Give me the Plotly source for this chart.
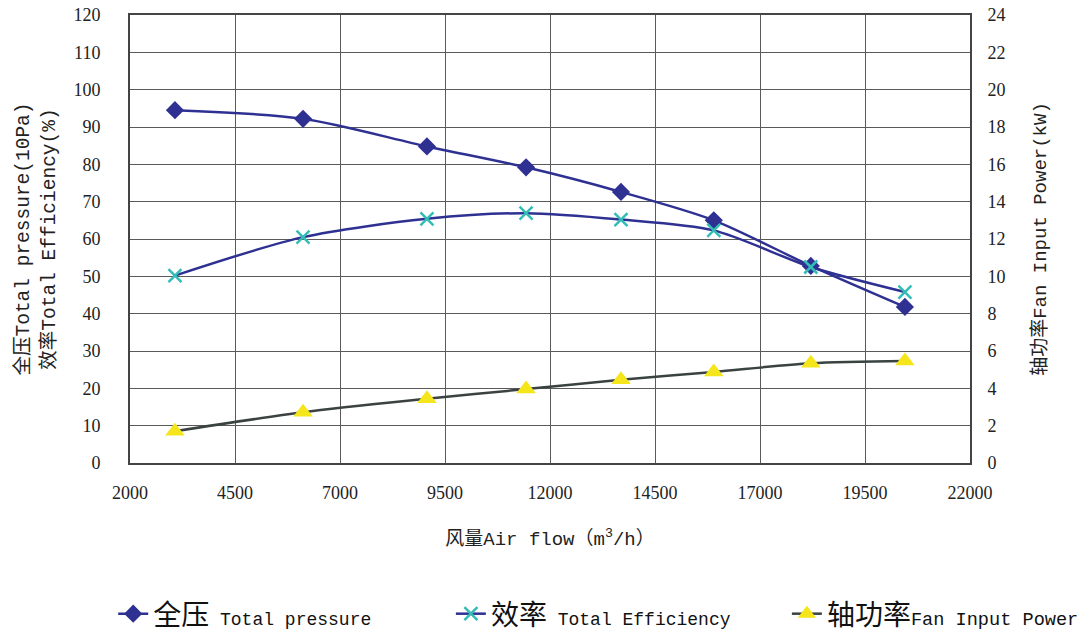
import plotly.graph_objects as go

airflow = [3070, 6120, 9070, 11430, 13690, 15900, 18210, 20450]
total_pressure = [94.5, 92.2, 84.8, 79.2, 72.6, 65.0, 52.8, 41.8]
efficiency = [50.2, 60.5, 65.4, 66.9, 65.2, 62.3, 52.5, 45.8]
input_power = [1.70, 2.72, 3.44, 3.96, 4.46, 4.88, 5.34, 5.46]

x_ticks = [2000, 4500, 7000, 9500, 12000, 14500, 17000, 19500, 22000]

NUM_FONT = "Liberation Serif"
TITLE_FONT = "Liberation Mono, Noto Sans CJK SC"
CJK = "Noto Sans CJK SC"
MONO_SPAN = "<span style='font-size:18px;font-family:Liberation Mono'>{}</span>"
MONO_SPAN3 = "<span style='font-size:18.6px;font-family:Liberation Mono'>{}</span>"

fig = go.Figure()
fig.add_trace(go.Scatter(
    x=airflow, y=total_pressure, mode="lines+markers",
    name="全压" + MONO_SPAN.format(" Total pressure"), legend="legend",
    line=dict(color="#2E3192", width=2.5, shape="spline", smoothing=0.8),
    marker=dict(symbol="diamond", size=14, color="#2E3192"),
))
fig.add_trace(go.Scatter(
    x=airflow, y=efficiency, mode="lines+markers",
    name="效率" + MONO_SPAN.format(" Total Efficiency"), legend="legend2",
    line=dict(color="#2E3192", width=2.5, shape="spline", smoothing=0.8),
    marker=dict(symbol="x-thin", size=13, color="#33BDB6", line=dict(color="#33BDB6", width=2.5)),
))
fig.add_trace(go.Scatter(
    x=airflow, y=input_power, mode="lines+markers", yaxis="y2",
    name="轴功率" + MONO_SPAN3.format("Fan Input Power"), legend="legend3",
    line=dict(color="#3A4342", width=2.5, shape="spline", smoothing=0.8),
    marker=dict(symbol="triangle-up", size=17, color="#F5E51B"),
))

legend_common = dict(
    orientation="h", xanchor="left", y=-0.337, yanchor="middle",
    font=dict(family=CJK, size=28, color="#111"), bgcolor="rgba(0,0,0,0)",
)
grid = "#5A5A5A"
fig.update_layout(
    width=1092, height=633,
    margin=dict(l=122, r=130, t=7, b=178, autoexpand=False),
    paper_bgcolor="white", plot_bgcolor="white",
    font=dict(family=NUM_FONT, size=17, color="#222"),
    showlegend=True,
    legend=dict(x=-0.020, **legend_common),
    legend2=dict(x=0.382, **legend_common),
    legend3=dict(x=0.782, **legend_common),
    xaxis=dict(
        range=[2000, 22000], tickvals=x_ticks, ticktext=[str(v) for v in x_ticks],
        showgrid=True, gridcolor=grid, gridwidth=1,
        showline=True, linecolor="#444", linewidth=2, mirror=True,
        ticks="", zeroline=False, ticklabelstandoff=12, ticklabeloverflow="allow",
        title=dict(text="风量Air flow（m<sup>3</sup>/h）",
                   font=dict(family=TITLE_FONT, size=19, color="#222"), standoff=30),
        tickfont=dict(family=NUM_FONT, size=18),
    ),
    yaxis=dict(
        range=[0, 120], dtick=10, showgrid=True, gridcolor=grid, gridwidth=1,
        showline=True, linecolor="#444", linewidth=2, zeroline=False,
        ticks="", ticklabelstandoff=24, ticklabeloverflow="allow",
        title=dict(text="全压Total pressure(10Pa)<br>效率Total Efficiency(%)",
                   font=dict(family=TITLE_FONT, size=19.5, color="#222"), standoff=13),
        tickfont=dict(family=NUM_FONT, size=18),
    ),
    yaxis2=dict(
        range=[0, 24], dtick=2, overlaying="y", side="right", showgrid=False,
        showline=True, linecolor="#444", linewidth=2, zeroline=False,
        ticks="", ticklabelstandoff=12, ticklabeloverflow="allow",
        title=dict(text="轴功率Fan Input Power(kW)",
                   font=dict(family=TITLE_FONT, size=19, color="#222"), standoff=28),
        tickfont=dict(family=NUM_FONT, size=18),
    ),
)

fig.write_html("out.html")
